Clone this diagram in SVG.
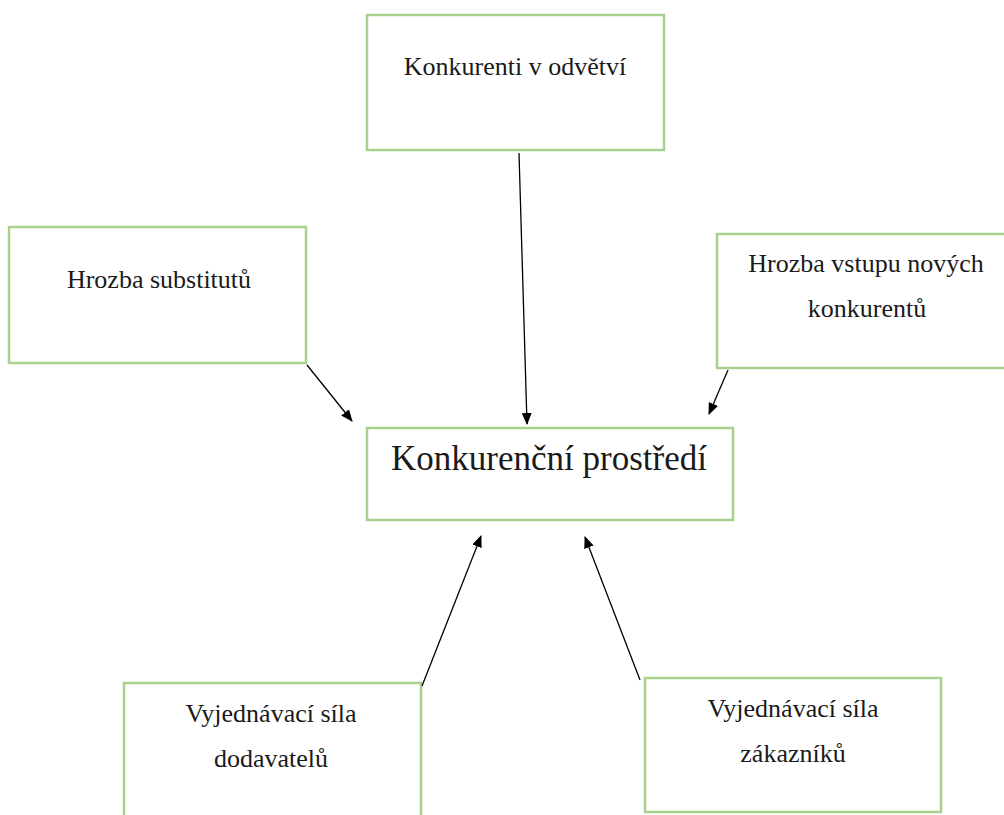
<svg xmlns="http://www.w3.org/2000/svg" width="1004" height="815" viewBox="0 0 1004 815">
<style>
.box{fill:#ffffff;stroke:#a9d18e;stroke-width:2.5}
.t{font-family:"Liberation Serif","Times New Roman",serif;fill:#1a1a1a;text-anchor:middle;font-size:26px}
.big{font-size:35px}
.c{stroke:#000;stroke-width:1.3;fill:none;marker-end:url(#ah)}
</style>
<defs>
<marker id="ah" viewBox="0 0 12 10" refX="11" refY="5" markerWidth="12" markerHeight="10" markerUnits="userSpaceOnUse" orient="auto">
<path d="M0,0 L12,5 L0,10 Z" fill="#000"/>
</marker>
</defs>
<rect width="1004" height="815" fill="#ffffff"/>
<g id="n-konkurenti">
<rect class="box" x="367" y="15" width="297" height="135"/>
<text class="t" x="515" y="75">Konkurenti v odvětví</text>
</g>
<g id="n-substituty">
<rect class="box" x="9" y="227" width="297" height="136"/>
<text class="t" x="159" y="288">Hrozba substitutů</text>
</g>
<g id="n-vstup">
<rect class="box" x="717" y="234" width="296" height="134"/>
<text class="t" x="866" y="272">Hrozba vstupu nových</text>
<text class="t" x="867" y="317">konkurentů</text>
</g>
<g id="n-prostredi">
<rect class="box" x="367" y="428" width="366" height="92"/>
<text class="t big" x="549" y="470">Konkurenční prostředí</text>
</g>
<g id="n-dodavatele">
<rect class="box" x="124" y="683" width="297" height="140"/>
<text class="t" x="271" y="722">Vyjednávací síla</text>
<text class="t" x="271" y="767">dodavatelů</text>
</g>
<g id="n-zakaznici">
<rect class="box" x="645" y="678" width="296" height="134"/>
<text class="t" x="793" y="717">Vyjednávací síla</text>
<text class="t" x="793" y="762">zákazníků</text>
</g>
<g id="connectors">
<line class="c" x1="519" y1="153" x2="527" y2="424"/>
<line class="c" x1="307" y1="365" x2="352" y2="421"/>
<line class="c" x1="728" y1="370" x2="709" y2="414"/>
<line class="c" x1="422" y1="686" x2="481" y2="536"/>
<line class="c" x1="640" y1="680" x2="585" y2="537"/>
</g>
</svg>
